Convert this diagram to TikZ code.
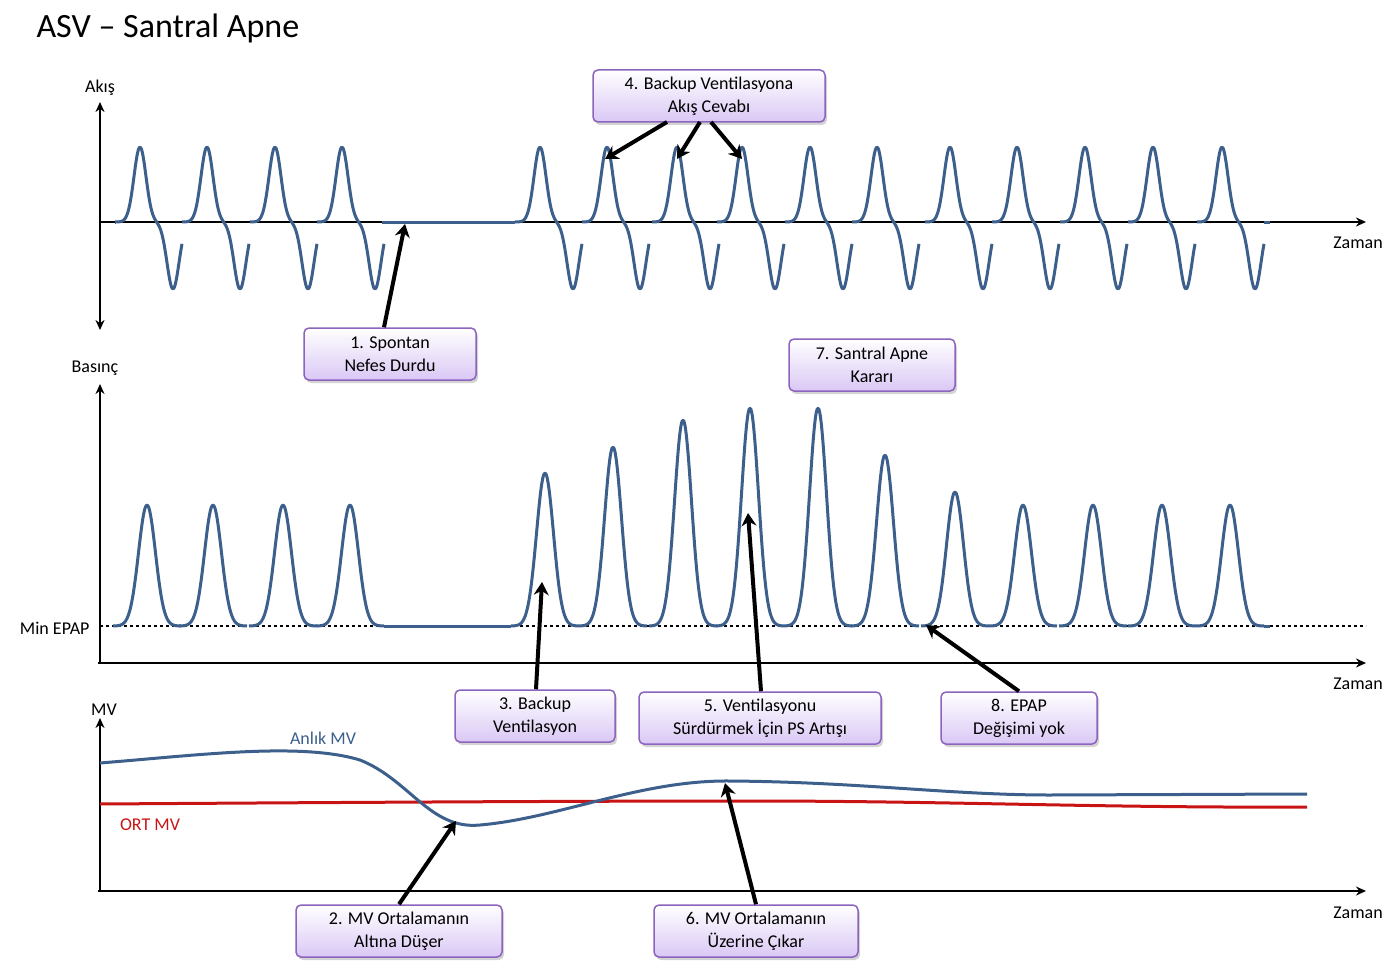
\documentclass[tikz,border=0pt]{standalone}
\usepackage{fontspec}
\setmainfont{Carlito}
\usetikzlibrary{shadows,arrows.meta}
\definecolor{wave}{RGB}{60,95,140}
\definecolor{boxb}{RGB}{140,100,190}
\definecolor{boxf}{RGB}{218,200,245}
\definecolor{mvred}{RGB}{200,20,20}
\begin{document}
\begin{tikzpicture}[x=1pt,y=-1pt,
 box/.style={draw=boxb,line width=1.5pt,rounded corners=5pt,top color=white,bottom color=boxf,
   drop shadow={opacity=0.35,shadow xshift=2pt,shadow yshift=-3pt},align=center,font=\fontsize{18}{23}\selectfont,inner sep=0pt},
 call/.style={line width=4pt,-{Stealth[length=13pt,width=15pt]}},
 ax/.style={line width=2.5pt,-{Stealth[length=10pt,width=9pt]}},
 wv/.style={wave,line width=3pt,line join=round},
 lbl/.style={font=\fontsize{18}{22}\selectfont}]
\useasboundingbox (0,0) rectangle (1400,979);
\node[anchor=west,font=\fontsize{34}{40}\selectfont] (title) at (33,28) {ASV – Santral Apne};
% axes
\draw[line width=2.5pt,{Stealth[length=10pt,width=9pt]}-{Stealth[length=10pt,width=9pt]}] (100,330) -- (100,102);
\draw[ax] (100,222) -- (1366,222);
\draw[ax] (100,663) -- (100,384);
\draw[ax] (98,663) -- (1366,663);
\draw[ax] (100,891) -- (100,718);
\draw[ax] (98,891) -- (1366,891);
\draw[dashed,line width=1.2pt] (100,626) -- (1366,626);
\node[lbl] (l1) at (100,88) {Akış};
\node[lbl] (l2) at (95,368) {Basınç};
\node[lbl,anchor=east] (l3) at (93,628) {Min EPAP};
\node[lbl] (l4) at (104,710) {MV};
\node[lbl] (z1) at (1358,243) {Zaman};
\node[lbl] (z2) at (1358,684) {Zaman};
\node[lbl] (z3) at (1358,913) {Zaman};
\node[lbl,text=wave] (am) at (323,738) {Anlık MV};
\node[lbl,text=mvred] (om) at (150,825) {ORT MV};
% flow waveform
\draw[wv] (115,222) -- (116,222);
\foreach \p in {140,207,275,342,540,607,677,742,810,877,950,1017,1085,1153,1222}{
  \draw[wv] plot[domain=\p-25:\p+42,samples=50,smooth] (\x,{222-75*exp(-((\x-\p)/8.5)^2)+67*exp(-((\x-\p-33)/8.5)^2)});
}
\draw[wv] (382,222) -- (515,222);
\draw[wv] (1264,222) -- (1270,222);
% pressure waveform
\foreach \p/\h in {147/505,213/505,283/505,350/505,545/473,613/447,683/420,750/408,818/408,885/455,955/492,1023/505,1093/505,1162/505,1230/505}{
  \draw[wv] plot[domain=\p-34:\p+34,samples=50,smooth] (\x,{626-(626-\h)*exp(-((\x-\p)/12)^2)});
}
\draw[wv] (384,626) -- (511,626);
\draw[wv] (1264,626) -- (1270,626);
% MV
\draw[mvred,line width=3pt] (100,804) .. controls (400,802) and (600,801) .. (750,801) .. controls (950,801) and (1100,808) .. (1307,807);
\draw[wave,line width=3pt] (100,763) .. controls (200,755) and (300,742) .. (360,760)
  .. controls (410,780) and (430,830) .. (480,825)
  .. controls (560,818) and (640,780) .. (730,781)
  .. controls (860,782) and (950,795) .. (1050,795) -- (1307,794);
% boxes
\node[box,minimum width=172pt,minimum height=52pt] (b1) at (390,354) {1. Spontan\\Nefes Durdu};
\node[box,minimum width=232pt,minimum height=52pt] (b4) at (709,96) {4. Backup Ventilasyona\\Akış Cevabı};
\node[box,minimum width=166pt,minimum height=52pt] (b7) at (872,365) {7. Santral Apne\\Kararı};
\node[box,minimum width=160pt,minimum height=52pt] (b3) at (535,716) {3. Backup\\Ventilasyon};
\node[box,minimum width=242pt,minimum height=52pt] (b5) at (760,718) {5. Ventilasyonu\\Sürdürmek İçin PS Artışı};
\node[box,minimum width=156pt,minimum height=52pt] (b8) at (1019,718) {8. EPAP\\Değişimi yok};
\node[box,minimum width=206pt,minimum height=52pt] (b2) at (399,931) {2. MV Ortalamanın\\Altına Düşer};
\node[box,minimum width=204pt,minimum height=52pt] (b6) at (756,931) {6. MV Ortalamanın\\Üzerine Çıkar};
% targets
\coordinate (t1) at (405,224);
\coordinate (t4a) at (605,159);
\coordinate (t4b) at (677,159);
\coordinate (t4c) at (742,159);
\coordinate (t3) at (542,582);
\coordinate (t5) at (748,513);
\coordinate (t8) at (926,625);
\coordinate (t2) at (456,821);
\coordinate (t6) at (725,783);
\draw[call] (b1.north -| 384,0) -- (t1);
\draw[call] (667,122) -- (t4a);
\draw[call] (700,122) -- (t4b);
\draw[call] (711,122) -- (t4c);
\draw[call] (b3.north -| 536,0) -- (t3);
\draw[call] (b5.north -| 761,0) -- (t5);
\draw[call] (b8.north) -- (t8);
\draw[call] (b2.north) -- (t2);
\draw[call] (b6.north) -- (t6);
\end{tikzpicture}
\end{document}
